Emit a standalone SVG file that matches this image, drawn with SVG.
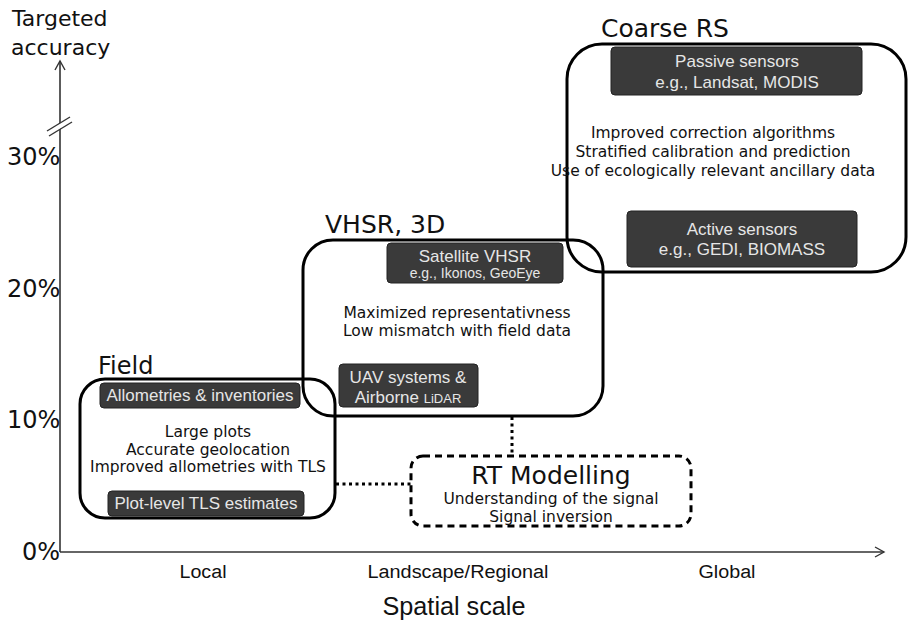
<svg xmlns="http://www.w3.org/2000/svg" width="909" height="624" viewBox="0 0 909 624">
  <style>
    .axis { stroke: #333; stroke-width: 1.6; fill: none; }
    .tick { font-family: "DejaVu Sans", sans-serif; font-size: 24px; fill: #111; }
    .cat { font-family: "Liberation Sans", Arial, sans-serif; font-size: 18px; fill: #111; text-anchor: middle; }
    .title { font-family: "DejaVu Sans", sans-serif; font-size: 25px; fill: #111; }
    .group { fill: none; stroke: #000; stroke-width: 3; }
    .pill { fill: #3a3a3a; stroke: #222; stroke-width: 1; }
    .pt { font-family: "Liberation Sans", Arial, sans-serif; font-size: 17px; fill: #e6e6e6; text-anchor: middle; }
    .ps { font-family: "Liberation Sans", Arial, sans-serif; font-size: 14px; fill: #e6e6e6; text-anchor: middle; }
    .body { font-family: "DejaVu Sans", sans-serif; font-size: 15.5px; fill: #111; text-anchor: middle; }
    .link { stroke: #000; stroke-width: 3; stroke-dasharray: 3 3.5; fill: none; }
  </style>
  <defs>
    <marker id="arr" markerWidth="12" markerHeight="12" refX="10" refY="6" orient="auto" markerUnits="userSpaceOnUse">
      <path d="M1,1 L10,6 L1,11" fill="none" stroke="#333" stroke-width="1.4"/>
    </marker>
  </defs>

  <rect width="909" height="624" fill="#fff"/>

  <!-- axes -->
  <g id="axes">
    <line class="axis" x1="60" y1="552" x2="60" y2="61" marker-end="url(#arr)"/>
    <line class="axis" x1="60" y1="552" x2="884" y2="552" marker-end="url(#arr)"/>
    <!-- axis break -->
    <line x1="48" y1="134" x2="71" y2="119" stroke="#fff" stroke-width="5"/>
    <line x1="47" y1="131" x2="70" y2="117" stroke="#333" stroke-width="1.4"/>
    <line x1="49" y1="136" x2="72" y2="122" stroke="#333" stroke-width="1.4"/>
    <text class="title" x="12" y="26" style="font-size:22px">Targeted</text>
    <text class="title" x="11" y="55" style="font-size:22px">accuracy</text>
    <text class="tick" x="7" y="165">30%</text>
    <text class="tick" x="7" y="297">20%</text>
    <text class="tick" x="7" y="428">10%</text>
    <text class="tick" x="22" y="560">0%</text>
    <text class="cat" x="203" y="578" textLength="47" lengthAdjust="spacingAndGlyphs">Local</text>
    <text class="cat" x="458" y="578" textLength="181" lengthAdjust="spacingAndGlyphs">Landscape/Regional</text>
    <text class="cat" x="727" y="578" textLength="57" lengthAdjust="spacingAndGlyphs">Global</text>
    <text class="cat" x="454" y="615" style="font-size:25px" textLength="143" lengthAdjust="spacingAndGlyphs">Spatial scale</text>
  </g>

  <!-- dotted connectors -->
  <g id="connectors">
    <line class="link" x1="336" y1="484" x2="411" y2="484"/>
    <line class="link" x1="512" y1="417" x2="512" y2="456"/>
  </g>

  <!-- Field -->
  <g id="field">
    <text class="title" x="98" y="374" style="font-size:24px">Field</text>
    <rect class="group" x="80" y="379" width="255" height="139" rx="25"/>
    <rect class="pill" x="100" y="383" width="200" height="25" rx="4"/>
    <text class="pt" x="200" y="401">Allometries &amp; inventories</text>
    <text class="body" x="208" y="437">Large plots</text>
    <text class="body" x="208" y="455">Accurate geolocation</text>
    <text class="body" x="208" y="472">Improved allometries with TLS</text>
    <rect class="pill" x="108" y="491" width="196" height="25" rx="4"/>
    <text class="pt" x="206" y="509">Plot-level TLS estimates</text>
  </g>

  <!-- VHSR, 3D -->
  <g id="vhsr">
    <text class="title" x="325" y="233">VHSR, 3D</text>
    <rect class="group" x="303" y="240" width="300" height="176" rx="30"/>
    <rect class="pill" x="387" y="243" width="176" height="40" rx="4"/>
    <text class="pt" x="475" y="262">Satellite VHSR</text>
    <text class="ps" x="475" y="278">e.g., Ikonos, GeoEye</text>
    <text class="body" x="457" y="318">Maximized representativness</text>
    <text class="body" x="457" y="336">Low mismatch with field data</text>
    <rect class="pill" x="339" y="364" width="139" height="43" rx="4"/>
    <text class="pt" x="408" y="383">UAV systems &amp;</text>
    <text class="pt" x="408" y="403">Airborne <tspan style="font-size:13px">LiDAR</tspan></text>
  </g>

  <!-- Coarse RS -->
  <g id="coarse">
    <text class="title" x="601" y="37">Coarse RS</text>
    <rect class="group" x="567" y="44" width="339" height="228" rx="35"/>
    <rect class="pill" x="611" y="47" width="251" height="48" rx="4"/>
    <text class="pt" x="737" y="67">Passive sensors</text>
    <text class="pt" x="737" y="88">e.g., Landsat, MODIS</text>
    <text class="body" x="713" y="138">Improved correction algorithms</text>
    <text class="body" x="713" y="157">Stratified calibration and prediction</text>
    <text class="body" x="713" y="176">Use of ecologically relevant ancillary data</text>
    <rect class="pill" x="627" y="211" width="230" height="56" rx="4"/>
    <text class="pt" x="742" y="235">Active sensors</text>
    <text class="pt" x="742" y="255">e.g., GEDI, BIOMASS</text>
  </g>

  <!-- RT Modelling -->
  <g id="rt">
    <rect x="411" y="456" width="280" height="70" rx="12" fill="none" stroke="#000" stroke-width="3" stroke-dasharray="7 5"/>
    <text class="title" x="551" y="484" style="font-size:25px" text-anchor="middle">RT Modelling</text>
    <text class="body" x="551" y="504">Understanding of the signal</text>
    <text class="body" x="551" y="522">Signal inversion</text>
  </g>
</svg>
